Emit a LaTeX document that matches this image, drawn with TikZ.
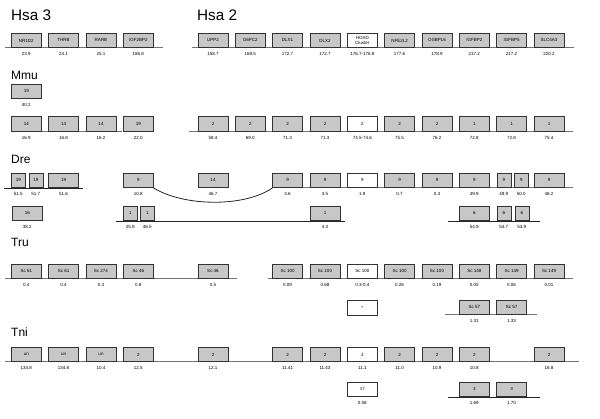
\documentclass[tikz,border=0pt]{standalone}
\usepackage{fontspec}
\setmainfont{Liberation Sans}
\begin{document}
\begin{tikzpicture}[x=1pt,y=-1pt,
  gbox/.style={draw=black!80, line width=0.6pt, fill=black!22, minimum width=30pt, minimum height=14.5pt, inner sep=0pt, font=\fontsize{4.5}{5}\selectfont},
  wbox/.style={gbox, fill=white},
  nbox/.style={gbox, minimum width=14pt},
  num/.style={inner sep=0pt, anchor=north, font=\fontsize{4.5}{5}\selectfont},
  title/.style={inner sep=0pt, anchor=base west, font=\fontsize{12}{14}\selectfont},
  bigtitle/.style={title, font=\fontsize{15.3}{17}\selectfont},
  base/.style={draw=black!55, line width=1pt},
  dbase/.style={draw=black!85, line width=0.8pt}]
\useasboundingbox (0,0) rectangle (600,419);
\newcommand\bx[6]{\node[#1, anchor=south west] (#2) at (#3,#4) {#5};
  \node[num] (#2n) at ([yshift=-4.5pt]#2.south) {#6};}
% titles
\node[bigtitle] (th3) at (11,21) {Hsa 3};
\node[bigtitle] (th2) at (197,21) {Hsa 2};
\node[title] (tmmu) at (11,80) {Mmu};
\node[title] (tdre) at (11,163.5) {Dre};
\node[title] (ttru) at (11,247) {Tru};
\node[title] (ttni) at (11,337) {Tni};
% baselines
\coordinate (a1) at (5,48); \coordinate (a2) at (163,48);
\coordinate (b1) at (192,48); \coordinate (b2) at (574,48);
\coordinate (c1) at (11,131.5); \coordinate (c2) at (122,131.5);
\coordinate (d1) at (189,131.5); \coordinate (d2) at (573,131.5);
\coordinate (e1) at (4,188); \coordinate (e2) at (83,188);
\coordinate (f1) at (272,188); \coordinate (f2) at (573,188);
\coordinate (g1) at (116,221); \coordinate (g2) at (345,221);
\coordinate (h1) at (448,221); \coordinate (h2) at (540,221);
\coordinate (i1) at (5,279); \coordinate (i2) at (237,279);
\coordinate (j1) at (268,279); \coordinate (j2) at (573,279);
\coordinate (k1) at (445,315); \coordinate (k2) at (537,315);
\coordinate (m1) at (5,362); \coordinate (m2) at (579,362);
\coordinate (n1) at (448,397); \coordinate (n2) at (540,397);
\draw[base] (a1) -- (a2);
\draw[base] (b1) -- (b2);
\draw[base] (c1) -- (c2);
\draw[base] (d1) -- (d2);
\draw[dbase] (e1) -- (e2);
\draw[base] (f1) -- (f2);
\draw[dbase] (g1) -- (g2);
\draw[dbase] (h1) -- (h2);
\draw[base] (i1) -- (i2);
\draw[base] (j1) -- (j2);
\draw[base] (k1) -- (k2);
\draw[base] (m1) -- (m2);
\draw[dbase] (n1) -- (n2);
% Hsa 3 / Hsa 2
\bx{gbox}{h1}{11}{48}{NR1D2}{23.9}
\bx{gbox}{h2}{48.3}{48}{THRB}{24.1}
\bx{gbox}{h3}{85.7}{48}{RARB}{25.1}
\bx{gbox}{h4}{123}{48}{IGF2BP2}{186.8}
\bx{gbox}{h5}{197.7}{48}{UPP2}{158.7}
\bx{gbox}{h6}{235}{48}{G6PC2}{169.5}
\bx{gbox}{h7}{272.3}{48}{DLX1}{172.7}
\bx{gbox}{h8}{309.7}{48}{DLX2}{172.7}
\node[wbox, anchor=south west, align=center] (h9) at (347,48) {HOXD\\[-0.6pt]Cluster};
\node[num] (h9n) at ([yshift=-4.5pt]h9.south) {176.7-176.8};
\bx{gbox}{h10}{384.3}{48}{NFE2L2}{177.6}
\bx{gbox}{h11}{421.7}{48}{OSBPL6}{178.9}
\bx{gbox}{h12}{459}{48}{IGFBP2}{217.2}
\bx{gbox}{h13}{496.3}{48}{IGFBP5}{217.2}
\bx{gbox}{h14}{533.7}{48}{SLC4A3}{220.2}
% Mmu
\bx{gbox}{m0}{11}{99}{19}{40.2}
\bx{gbox}{m1}{11}{131.5}{14}{16.9}
\bx{gbox}{m2}{48.3}{131.5}{14}{16.8}
\bx{gbox}{m3}{85.7}{131.5}{14}{16.2}
\bx{gbox}{m4}{123}{131.5}{19}{22.0}
\bx{gbox}{m5}{197.7}{131.5}{2}{58.4}
\bx{gbox}{m6}{235}{131.5}{2}{69.0}
\bx{gbox}{m7}{272.3}{131.5}{2}{71.3}
\bx{gbox}{m8}{309.7}{131.5}{2}{71.3}
\bx{wbox}{m9}{347}{131.5}{2}{74.5-74.6}
\bx{gbox}{m10}{384.3}{131.5}{2}{75.5}
\bx{gbox}{m11}{421.7}{131.5}{2}{76.2}
\bx{gbox}{m12}{459}{131.5}{1}{72.8}
\bx{gbox}{m13}{496.3}{131.5}{1}{72.8}
\bx{gbox}{m14}{533.7}{131.5}{1}{75.4}
% Dre row a
\bx{nbox}{d1}{11}{188}{19}{51.5}
\bx{nbox}{d2}{28.5}{188}{19}{51.7}
\bx{gbox}{d3}{48.3}{188}{19}{51.6}
\bx{gbox}{d4}{123}{188}{9}{10.8}
\bx{gbox}{d5}{197.7}{188}{14}{46.7}
\bx{gbox}{d7}{272.3}{188}{9}{3.6}
\bx{gbox}{d8}{309.7}{188}{9}{3.5}
\bx{wbox}{d9}{347}{188}{9}{1.9}
\bx{gbox}{d10}{384.3}{188}{9}{0.7}
\bx{gbox}{d11}{421.7}{188}{9}{0.3}
\bx{gbox}{d12}{459}{188}{9}{49.9}
\bx{nbox}{d13}{496.5}{188}{9}{49.9}
\bx{nbox}{d13b}{514}{188}{9}{50.0}
\bx{gbox}{d14}{533.7}{188}{9}{48.2}
\draw[black!85, line width=0.8pt] (d4.south east) .. controls (185,207) and (245,207) .. (d7.south west);
% Dre row b
\bx{gbox}{e0}{12}{221}{16}{38.2}
\bx{nbox}{e1}{123}{221}{1}{25.9}
\bx{nbox}{e2}{140}{221}{1}{46.5}
\bx{gbox}{e8}{309.7}{221}{1}{4.3}
\bx{gbox}{e12}{459}{221}{6}{54.9}
\bx{nbox}{e13}{496.5}{221}{6}{54.7}
\bx{nbox}{e13b}{514.5}{221}{6}{54.9}
% Tru row a
\bx{gbox}{t0}{11}{279}{Sc 61}{0.4}
\bx{gbox}{t1}{48.3}{279}{Sc 61}{0.4}
\bx{gbox}{t2}{85.7}{279}{Sc 274}{0.3}
\bx{gbox}{t3}{123}{279}{Sc 46}{0.8}
\bx{gbox}{t5}{197.7}{279}{Sc 46}{0.5}
\bx{gbox}{t7}{272.3}{279}{Sc 100}{0.09}
\bx{gbox}{t8}{309.7}{279}{Sc 100}{0.68}
\bx{wbox}{t9}{347}{279}{Sc 100}{0.3-0.4}
\bx{gbox}{t10}{384.3}{279}{Sc 100}{0.26}
\bx{gbox}{t11}{421.7}{279}{Sc 100}{0.19}
\bx{gbox}{t12}{459}{279}{Sc 148}{0.05}
\bx{gbox}{t13}{496.3}{279}{Sc 149}{0.06}
\bx{gbox}{t14}{533.7}{279}{Sc 149}{0.01}
% Tru row b
\node[wbox, anchor=south west] (u9) at (347,315.5) {*};
\bx{gbox}{u12}{459}{315}{Sc 57}{1.31}
\bx{gbox}{u13}{496.3}{315}{Sc 57}{1.33}
% Tni row a
\bx{gbox}{n0}{11}{362}{un}{134.8}
\bx{gbox}{n1}{48.3}{362}{un}{134.8}
\bx{gbox}{n2}{85.7}{362}{un}{10.4}
\bx{gbox}{n3}{123}{362}{2}{12.5}
\bx{gbox}{n5}{197.7}{362}{2}{12.1}
\bx{gbox}{n7}{272.3}{362}{2}{11.41}
\bx{gbox}{n8}{309.7}{362}{2}{11.43}
\bx{wbox}{n9}{347}{362}{2}{11.1}
\bx{gbox}{n10}{384.3}{362}{2}{11.0}
\bx{gbox}{n11}{421.7}{362}{2}{10.9}
\bx{gbox}{n12}{459}{362}{2}{10.8}
\bx{gbox}{n14}{533.7}{362}{2}{16.8}
% Tni row b
\bx{wbox}{o9}{347}{397}{17}{0.58}
\bx{gbox}{o12}{459}{397}{3}{1.69}
\bx{gbox}{o13}{496.3}{397}{3}{1.70}
\end{tikzpicture}
\end{document}
